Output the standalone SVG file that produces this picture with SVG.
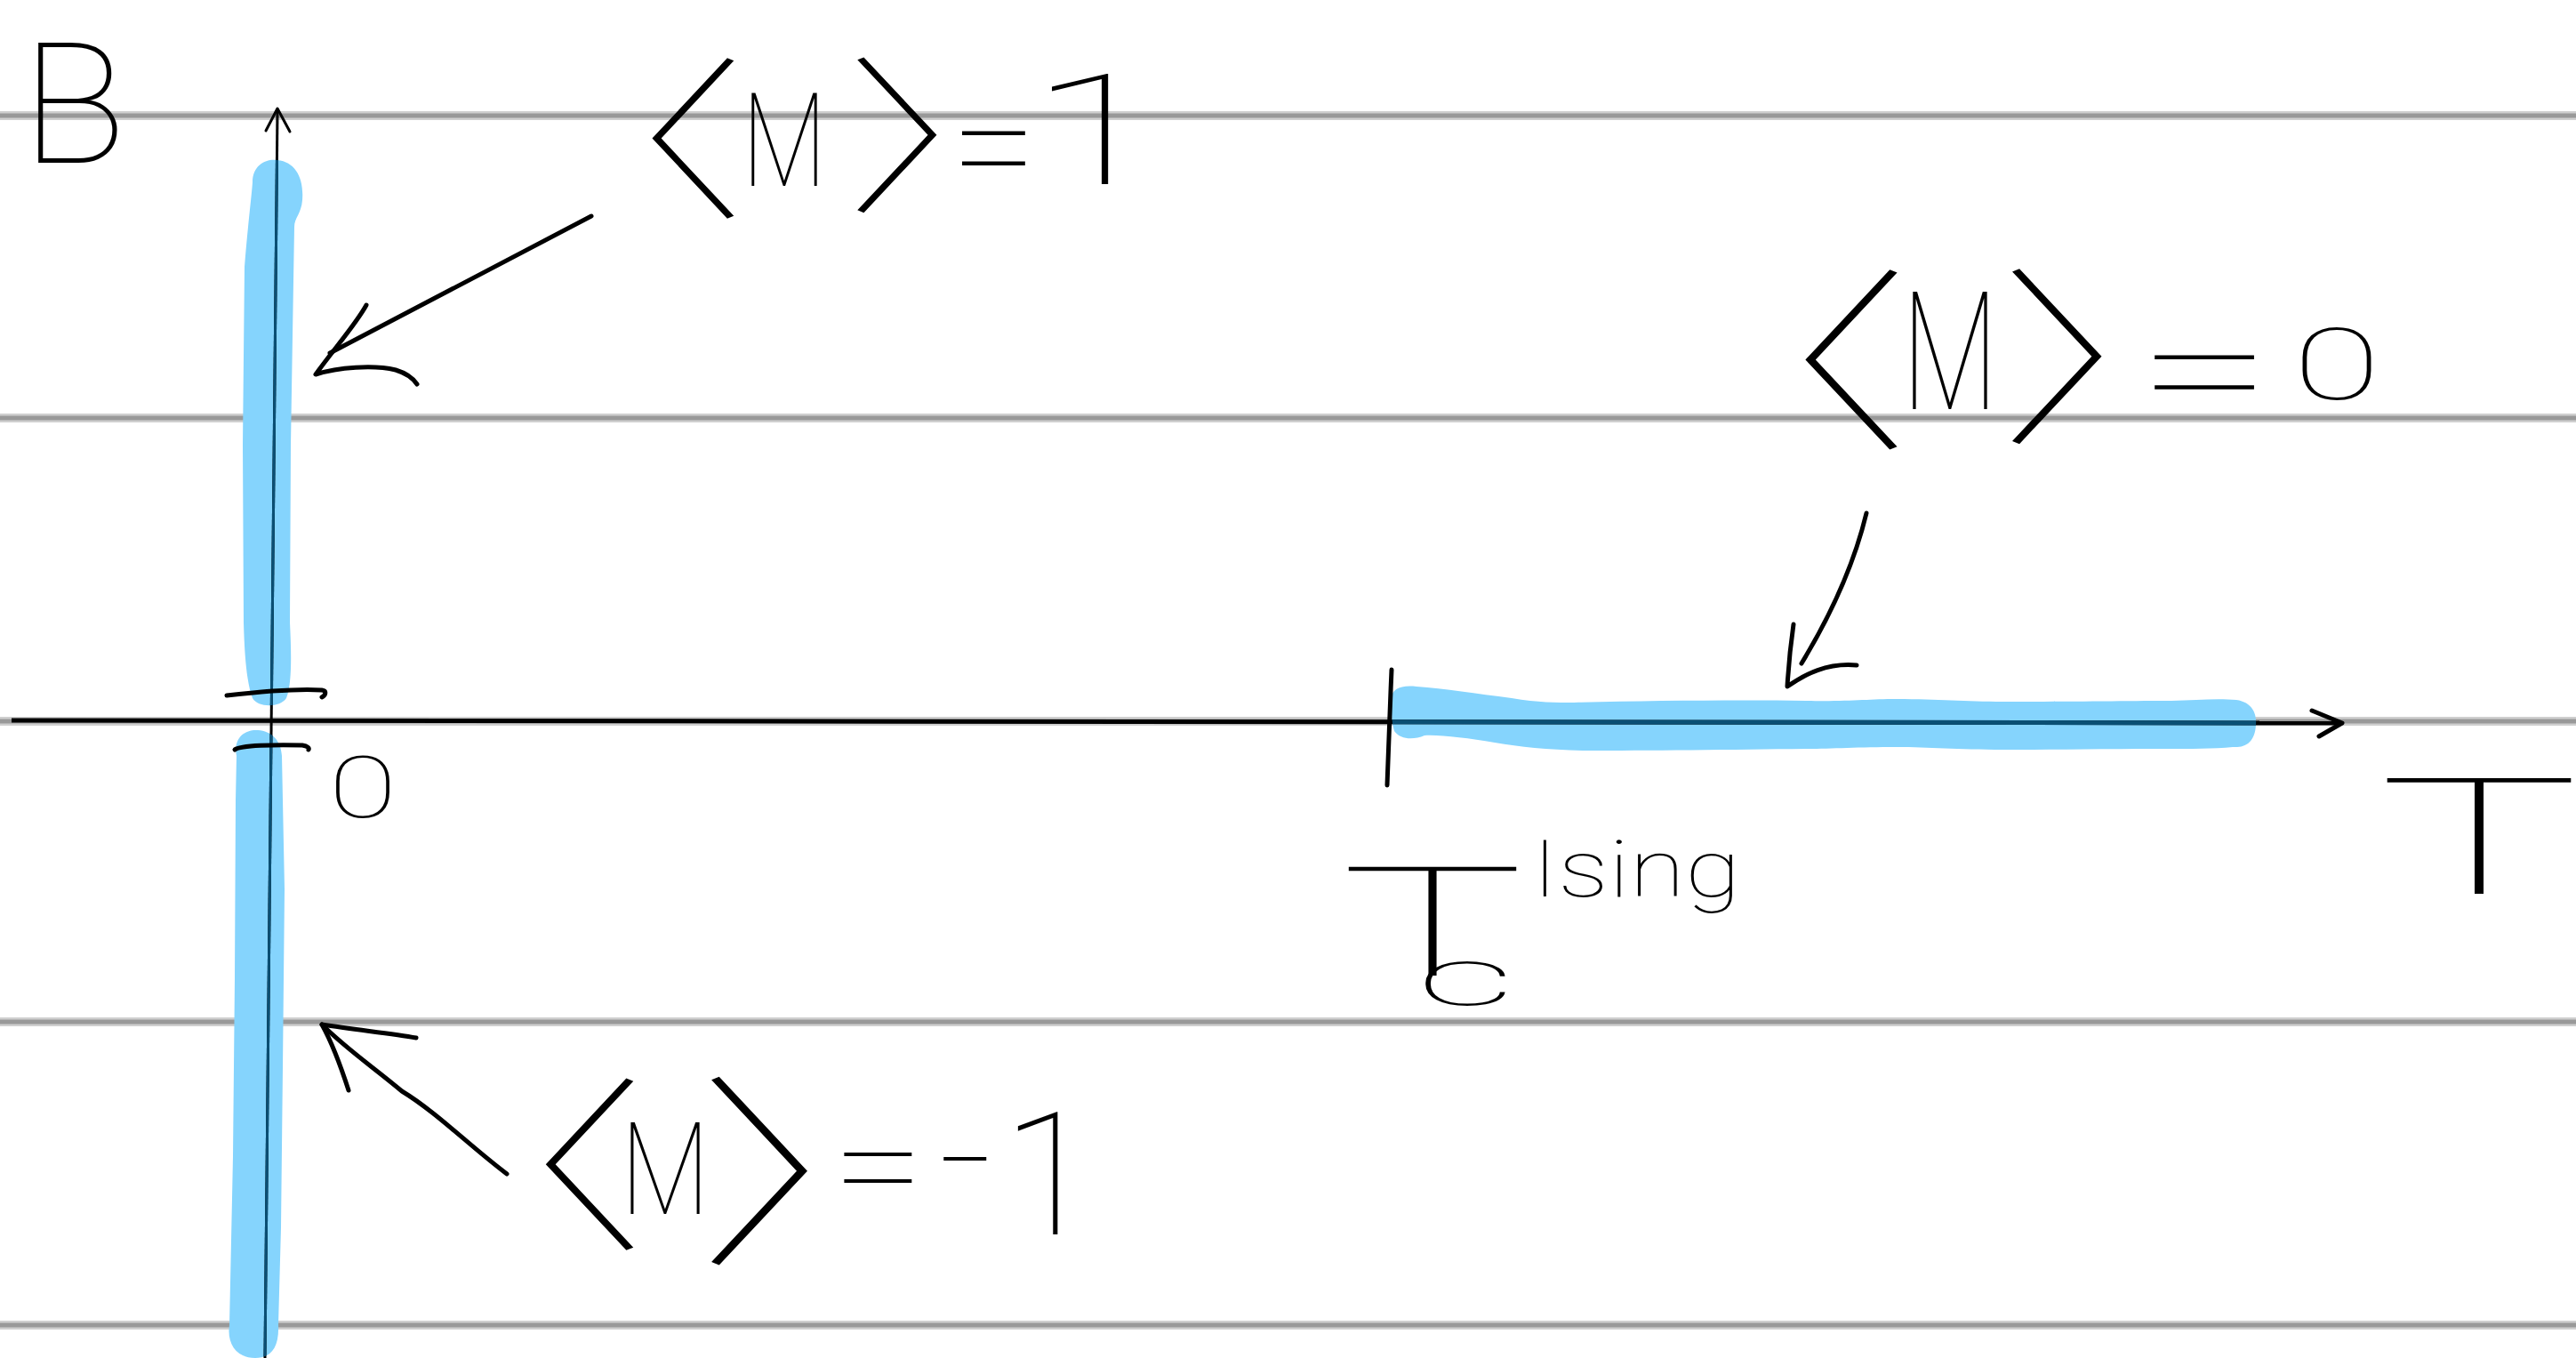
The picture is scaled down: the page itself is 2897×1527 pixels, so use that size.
<svg xmlns="http://www.w3.org/2000/svg" width="2897" height="1527" viewBox="0 0 2897 1527">
<style>
.rule-soft{stroke:#cfcfcf;stroke-width:10;fill:none}
.rule{stroke:#999999;stroke-width:5;fill:none}
.hl{fill:#85D4FD}
.ink{stroke:#000;stroke-width:5;fill:none;stroke-linecap:round;stroke-linejoin:round}
.hw{font-family:Roboto,"Noto Sans",sans-serif;font-weight:100;fill:#000;text-anchor:middle}
.br{font-family:"Noto Sans CJK SC","Noto Sans CJK JP",sans-serif;font-weight:100}
</style>
<defs>
<path id="hlUp" d="M284,205 C284,185 300,178 312,180 C332,182 342,200 340,225 C339,240 331,245 331,255 L327,500 L326,700 C328,740 328,770 322,785 C315,796 290,796 284,785 C278,770 275,740 274,700 L273,500 L275,300 C278,260 283,220 284,205 Z"/>
<path id="hlDown" d="M266,850 C262,830 275,820 290,821 C305,822 316,832 317,850 L320,1000 L318,1200 L316,1380 L313,1490 C314,1515 305,1527 287,1527 C265,1527 255,1510 258,1490 L262,1300 L264,1100 L265,900 Z"/>
<path id="hlT" d="M1565,785 C1565,775 1575,770 1593,772 C1625,774 1660,780 1700,785 C1730,790 1750,790 1770,790 C1850,788 1950,787 2031,788 C2080,789 2100,786 2133,786 C2180,786 2210,789 2253,789 C2330,789 2400,788 2442,788 C2470,787 2495,785 2515,787 C2535,790 2538,805 2537,815 C2536,835 2525,841 2511,840 C2490,842 2460,842 2442,842 C2380,842 2310,843 2253,843 C2200,843 2170,840 2133,840 C2090,840 2060,842 2031,842 C1950,843 1850,844 1782,844 C1740,843 1710,840 1681,835 C1650,830 1620,826 1602,827 C1590,832 1575,832 1568,822 C1564,810 1565,795 1565,785 Z"/>
<clipPath id="hlClip"><use href="#hlUp"/><use href="#hlDown"/><use href="#hlT"/></clipPath>
</defs>
<rect x="0" y="0" width="2897" height="1527" fill="#ffffff"/>
<g id="ruled-lines">
<line class="rule-soft" x1="0" y1="130" x2="2897" y2="130"/>
<line class="rule-soft" x1="0" y1="470" x2="2897" y2="470"/>
<line class="rule-soft" x1="0" y1="811" x2="2897" y2="811"/>
<line class="rule-soft" x1="0" y1="1149" x2="2897" y2="1149"/>
<line class="rule-soft" x1="0" y1="1490" x2="2897" y2="1490"/>
<line class="rule" x1="0" y1="130" x2="2897" y2="130"/>
<line class="rule" x1="0" y1="470" x2="2897" y2="470"/>
<line class="rule" x1="0" y1="811" x2="2897" y2="811"/>
<line class="rule" x1="0" y1="1149" x2="2897" y2="1149"/>
<line class="rule" x1="0" y1="1490" x2="2897" y2="1490"/>
</g>
<g id="highlights">
<use href="#hlUp" class="hl"/>
<use href="#hlDown" class="hl"/>
<use href="#hlT" class="hl"/>
</g>
<g id="axes">
<path d="M13,810 L2632,813" stroke="#000" stroke-width="5" fill="none"/>
<path d="M2600,799 L2634,813 L2608,828" class="ink" stroke-width="4"/>
<path d="M312,124 L298,1527" stroke="#000" stroke-width="3" fill="none"/>
<path d="M299,147 L312,122 L326,148" stroke="#000" stroke-width="3" fill="none" stroke-linecap="round" stroke-linejoin="round"/>
<g clip-path="url(#hlClip)">
<path d="M13,810 L2632,813" stroke="#0A4F74" stroke-width="5" fill="none"/>
<path d="M312,124 L298,1527" stroke="#0A4F74" stroke-width="3" fill="none"/>
</g>
<path d="M1565,753 C1563,800 1561,850 1560,883" class="ink" stroke-width="4"/>
<path d="M255,782 C290,778 330,774 362,776 C368,777 366,782 362,784" class="ink"/>
<path d="M264,843 C270,838 310,837 340,838 C346,839 348,841 347,843" class="ink"/>
</g>
<g id="label-B"><text class="hw" x="83" y="183" font-size="190" textLength="118" lengthAdjust="spacingAndGlyphs">B</text></g>
<g id="label-M-plus1"><text class="hw"><tspan class="br" x="702" y="230" font-size="196" textLength="274" lengthAdjust="spacingAndGlyphs">〈</tspan><tspan x="882" y="209" font-size="146" textLength="95" lengthAdjust="spacingAndGlyphs">M</tspan><tspan class="br" x="1084" y="224" font-size="190" textLength="266" lengthAdjust="spacingAndGlyphs">〉</tspan><tspan x="1118" y="222" font-size="170" textLength="97" lengthAdjust="spacingAndGlyphs">=</tspan><tspan x="1233" y="207" font-size="174" textLength="150" lengthAdjust="spacingAndGlyphs">1</tspan></text></g>
<g id="label-M-zero"><text class="hw"><tspan class="br" x="1995" y="488" font-size="220" textLength="308" lengthAdjust="spacingAndGlyphs">〈</tspan><tspan x="2193" y="460" font-size="186" textLength="108" lengthAdjust="spacingAndGlyphs">M</tspan><tspan class="br" x="2398" y="482" font-size="214" textLength="300" lengthAdjust="spacingAndGlyphs">〉</tspan><tspan x="2480" y="474" font-size="170" textLength="153" lengthAdjust="spacingAndGlyphs">=</tspan><tspan x="2628" y="449" font-size="111" textLength="99" lengthAdjust="spacingAndGlyphs">0</tspan></text></g>
<g id="label-M-minus1"><text class="hw"><tspan class="br" x="580" y="1389" font-size="210" textLength="294" lengthAdjust="spacingAndGlyphs">〈</tspan><tspan x="748" y="1365" font-size="145" textLength="100" lengthAdjust="spacingAndGlyphs">M</tspan><tspan class="br" x="945" y="1404" font-size="230" textLength="322" lengthAdjust="spacingAndGlyphs">〉</tspan><tspan x="988" y="1362" font-size="150" textLength="104" lengthAdjust="spacingAndGlyphs">=</tspan><tspan x="1086" y="1352" font-size="150" textLength="62" lengthAdjust="spacingAndGlyphs">-</tspan><tspan x="1180" y="1388" font-size="193">1</tspan></text></g>
<g id="label-origin"><text class="hw" x="408" y="919" font-size="97" textLength="77" lengthAdjust="spacingAndGlyphs">0</text></g>
<g id="label-T"><text class="hw" x="2788" y="1005" font-size="183" textLength="227" lengthAdjust="spacingAndGlyphs">T</text></g>
<g id="label-Tc"><text class="hw"><tspan x="1611" y="1097" font-size="172" textLength="207" lengthAdjust="spacingAndGlyphs">T</tspan><tspan x="1648" y="1130" font-size="91" textLength="110" lengthAdjust="spacingAndGlyphs">c</tspan><tspan x="1840" y="1008" font-size="89" textLength="235" lengthAdjust="spacingAndGlyphs">Ising</tspan></text></g>
<g id="connectors">
<path class="ink" d="M665,243 L371,397"/>
<path class="ink" d="M412,343 C400,365 375,393 355,421 C380,413 420,410 445,416 C458,420 465,426 469,432"/>
<path class="ink" d="M2099,577 C2085,635 2060,690 2026,746"/>
<path class="ink" d="M2017,702 C2013,730 2011,755 2010,772 C2030,758 2055,745 2088,748"/>
<path class="ink" d="M570,1320 C530,1290 490,1250 452,1227 C420,1200 390,1180 362,1152"/>
<path class="ink" d="M468,1167 C440,1162 400,1158 362,1152 C372,1170 382,1195 392,1226"/>
</g>
</svg>
